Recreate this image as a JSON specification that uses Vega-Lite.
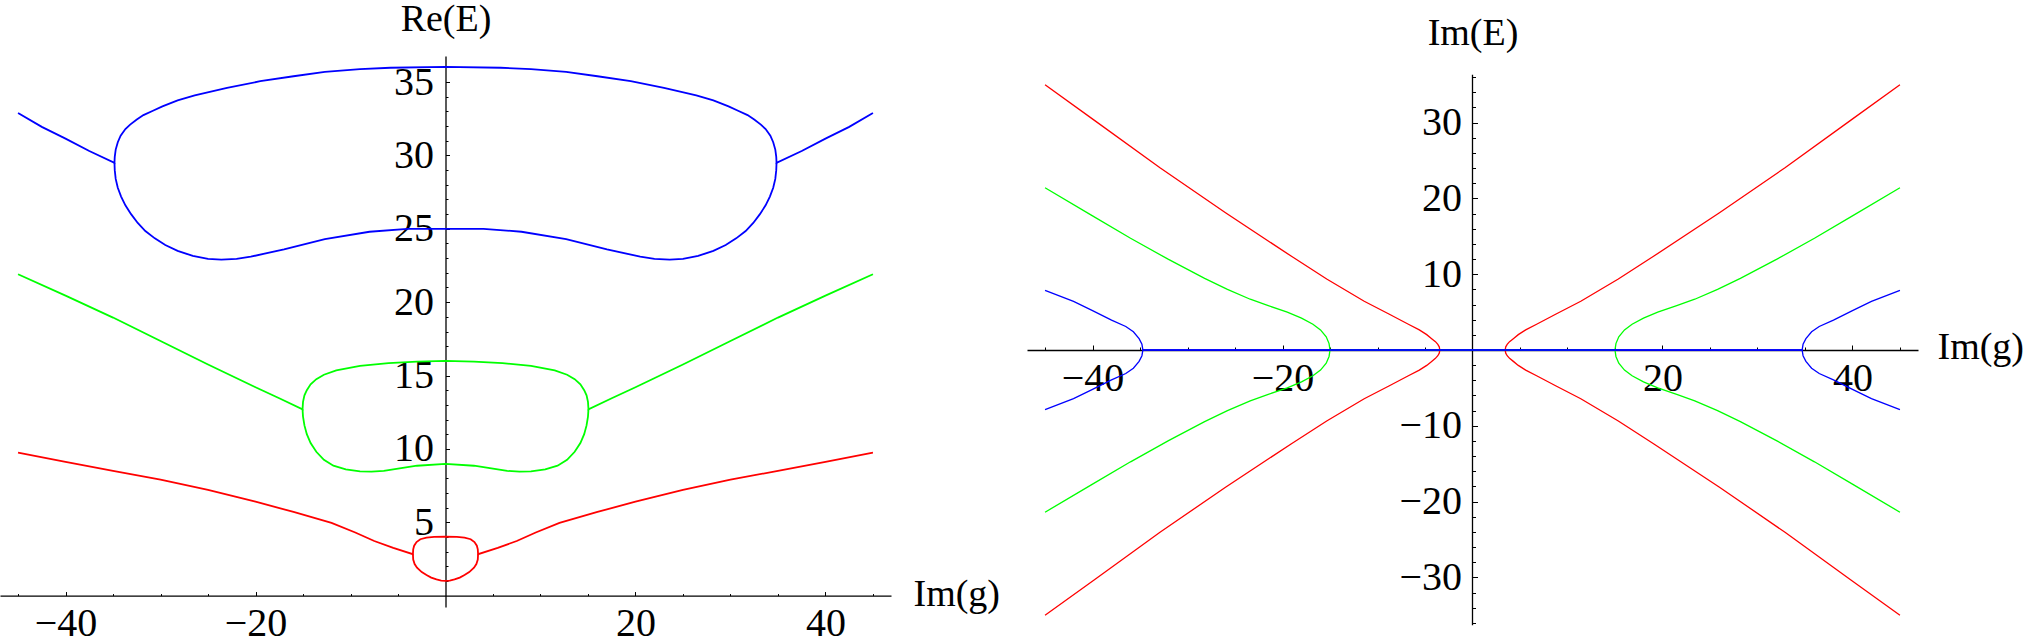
{
  "$schema": "https://vega.github.io/schema/vega-lite/v6.json",
  "padding": 0,
  "autosize": {"type": "pad"},
  "background": "white",
  "spacing": 136,
  "bounds": "flush",
  "config": {
    "view": {"stroke": null},
    "axis": {
      "labelFont": "Liberation Serif", "titleFont": "Liberation Serif",
      "labelFontSize": 40, "titleFontSize": 38, "titleFontWeight": "normal",
      "labelColor": "black", "titleColor": "black", "domainColor": "black", "tickColor": "black",
      "domainWidth": 1.3, "tickWidth": 1, "grid": false,
      "labelFlush": false, "labelOverlap": false, "labelBound": false
    }
  },
  "hconcat": [
    {
      "width": 891, "height": 551,
      "data": {"values": [
        {"b":"r","s":"u","x":-45,"y":9.74},{"b":"r","s":"u","x":-40,"y":9.12},{"b":"r","s":"u","x":-35,"y":8.5},{"b":"r","s":"u","x":-30,"y":7.9},{"b":"r","s":"u","x":-25,"y":7.2},{"b":"r","s":"u","x":-20,"y":6.4},{"b":"r","s":"u","x":-16,"y":5.7},{"b":"r","s":"u","x":-12,"y":4.95},{"b":"r","s":"u","x":-9.5,"y":4.3},{"b":"r","s":"u","x":-7.5,"y":3.72},{"b":"r","s":"u","x":-5.5,"y":3.25},{"b":"r","s":"u","x":-3.43,"y":2.82},{"b":"r","s":"u","x":-3.4,"y":3.15},{"b":"r","s":"u","x":-3.3,"y":3.4},{"b":"r","s":"u","x":-3.05,"y":3.65},{"b":"r","s":"u","x":-2.65,"y":3.84},{"b":"r","s":"u","x":-2.0,"y":3.95},{"b":"r","s":"u","x":-1.2,"y":4.0},{"b":"r","s":"u","x":0,"y":4.01},{"b":"r","s":"u","x":1.2,"y":4.0},{"b":"r","s":"u","x":2.0,"y":3.95},{"b":"r","s":"u","x":2.65,"y":3.84},{"b":"r","s":"u","x":3.05,"y":3.65},{"b":"r","s":"u","x":3.3,"y":3.4},{"b":"r","s":"u","x":3.4,"y":3.15},{"b":"r","s":"u","x":3.43,"y":2.82},{"b":"r","s":"u","x":5.5,"y":3.25},{"b":"r","s":"u","x":7.5,"y":3.72},{"b":"r","s":"u","x":9.5,"y":4.3},{"b":"r","s":"u","x":12,"y":4.95},{"b":"r","s":"u","x":16,"y":5.7},{"b":"r","s":"u","x":20,"y":6.4},{"b":"r","s":"u","x":25,"y":7.2},{"b":"r","s":"u","x":30,"y":7.9},{"b":"r","s":"u","x":35,"y":8.5},{"b":"r","s":"u","x":40,"y":9.12},{"b":"r","s":"u","x":45,"y":9.74},
        {"b":"r","s":"l","x":-3.43,"y":2.82},{"b":"r","s":"l","x":-3.4,"y":2.45},{"b":"r","s":"l","x":-3.25,"y":2.15},{"b":"r","s":"l","x":-3.0,"y":1.9},{"b":"r","s":"l","x":-2.5,"y":1.6},{"b":"r","s":"l","x":-2.0,"y":1.4},{"b":"r","s":"l","x":-1.5,"y":1.22},{"b":"r","s":"l","x":-0.95,"y":1.1},{"b":"r","s":"l","x":-0.45,"y":1.02},{"b":"r","s":"l","x":0,"y":1.0},{"b":"r","s":"l","x":0.45,"y":1.02},{"b":"r","s":"l","x":0.95,"y":1.1},{"b":"r","s":"l","x":1.5,"y":1.22},{"b":"r","s":"l","x":2.0,"y":1.4},{"b":"r","s":"l","x":2.5,"y":1.6},{"b":"r","s":"l","x":3.0,"y":1.9},{"b":"r","s":"l","x":3.25,"y":2.15},{"b":"r","s":"l","x":3.4,"y":2.45},{"b":"r","s":"l","x":3.43,"y":2.82},
        {"b":"g","s":"u","x":-45,"y":21.9},{"b":"g","s":"u","x":-40,"y":20.45},{"b":"g","s":"u","x":-35,"y":18.95},{"b":"g","s":"u","x":-30,"y":17.35},{"b":"g","s":"u","x":-25,"y":15.75},{"b":"g","s":"u","x":-20,"y":14.2},{"b":"g","s":"u","x":-17.5,"y":13.45},{"b":"g","s":"u","x":-15.05,"y":12.7},{"b":"g","s":"u","x":-15.0,"y":13.2},{"b":"g","s":"u","x":-14.85,"y":13.65},{"b":"g","s":"u","x":-14.6,"y":14.0},{"b":"g","s":"u","x":-14.2,"y":14.4},{"b":"g","s":"u","x":-13.6,"y":14.75},{"b":"g","s":"u","x":-12.8,"y":15.05},{"b":"g","s":"u","x":-11.5,"y":15.35},{"b":"g","s":"u","x":-9,"y":15.65},{"b":"g","s":"u","x":-6,"y":15.85},{"b":"g","s":"u","x":-3,"y":15.95},{"b":"g","s":"u","x":0,"y":16.0},{"b":"g","s":"u","x":3,"y":15.95},{"b":"g","s":"u","x":6,"y":15.85},{"b":"g","s":"u","x":9,"y":15.65},{"b":"g","s":"u","x":11.5,"y":15.35},{"b":"g","s":"u","x":12.8,"y":15.05},{"b":"g","s":"u","x":13.6,"y":14.75},{"b":"g","s":"u","x":14.2,"y":14.4},{"b":"g","s":"u","x":14.6,"y":14.0},{"b":"g","s":"u","x":14.85,"y":13.65},{"b":"g","s":"u","x":15.0,"y":13.2},{"b":"g","s":"u","x":15.05,"y":12.7},{"b":"g","s":"u","x":17.5,"y":13.45},{"b":"g","s":"u","x":20,"y":14.2},{"b":"g","s":"u","x":25,"y":15.75},{"b":"g","s":"u","x":30,"y":17.35},{"b":"g","s":"u","x":35,"y":18.95},{"b":"g","s":"u","x":40,"y":20.45},{"b":"g","s":"u","x":45,"y":21.9},
        {"b":"g","s":"l","x":-15.05,"y":12.7},{"b":"g","s":"l","x":-15.0,"y":12.2},{"b":"g","s":"l","x":-14.85,"y":11.6},{"b":"g","s":"l","x":-14.6,"y":11.0},{"b":"g","s":"l","x":-14.2,"y":10.4},{"b":"g","s":"l","x":-13.6,"y":9.8},{"b":"g","s":"l","x":-12.8,"y":9.25},{"b":"g","s":"l","x":-11.8,"y":8.85},{"b":"g","s":"l","x":-10.5,"y":8.6},{"b":"g","s":"l","x":-9,"y":8.47},{"b":"g","s":"l","x":-7.8,"y":8.45},{"b":"g","s":"l","x":-6.5,"y":8.5},{"b":"g","s":"l","x":-5,"y":8.65},{"b":"g","s":"l","x":-3,"y":8.85},{"b":"g","s":"l","x":0,"y":8.98},{"b":"g","s":"l","x":3,"y":8.85},{"b":"g","s":"l","x":5,"y":8.65},{"b":"g","s":"l","x":6.5,"y":8.5},{"b":"g","s":"l","x":7.8,"y":8.45},{"b":"g","s":"l","x":9,"y":8.47},{"b":"g","s":"l","x":10.5,"y":8.6},{"b":"g","s":"l","x":11.8,"y":8.85},{"b":"g","s":"l","x":12.8,"y":9.25},{"b":"g","s":"l","x":13.6,"y":9.8},{"b":"g","s":"l","x":14.2,"y":10.4},{"b":"g","s":"l","x":14.6,"y":11.0},{"b":"g","s":"l","x":14.85,"y":11.6},{"b":"g","s":"l","x":15.0,"y":12.2},{"b":"g","s":"l","x":15.05,"y":12.7},
        {"b":"b","s":"u","x":-45,"y":32.9},{"b":"b","s":"u","x":-42.5,"y":31.95},{"b":"b","s":"u","x":-40,"y":31.15},{"b":"b","s":"u","x":-37.5,"y":30.3},{"b":"b","s":"u","x":-34.85,"y":29.5},{"b":"b","s":"u","x":-34.82,"y":29.9},{"b":"b","s":"u","x":-34.72,"y":30.4},{"b":"b","s":"u","x":-34.5,"y":30.9},{"b":"b","s":"u","x":-34.2,"y":31.35},{"b":"b","s":"u","x":-33.7,"y":31.8},{"b":"b","s":"u","x":-33.2,"y":32.1},{"b":"b","s":"u","x":-32.5,"y":32.45},{"b":"b","s":"u","x":-31.8,"y":32.75},{"b":"b","s":"u","x":-30.8,"y":33.05},{"b":"b","s":"u","x":-29.8,"y":33.35},{"b":"b","s":"u","x":-28.2,"y":33.75},{"b":"b","s":"u","x":-26.4,"y":34.1},{"b":"b","s":"u","x":-23,"y":34.6},{"b":"b","s":"u","x":-19.5,"y":35.06},{"b":"b","s":"u","x":-16,"y":35.4},{"b":"b","s":"u","x":-12.7,"y":35.7},{"b":"b","s":"u","x":-9,"y":35.88},{"b":"b","s":"u","x":-5.8,"y":35.98},{"b":"b","s":"u","x":0,"y":36.04},{"b":"b","s":"u","x":5.8,"y":35.98},{"b":"b","s":"u","x":9,"y":35.88},{"b":"b","s":"u","x":12.7,"y":35.7},{"b":"b","s":"u","x":16,"y":35.4},{"b":"b","s":"u","x":19.5,"y":35.06},{"b":"b","s":"u","x":23,"y":34.6},{"b":"b","s":"u","x":26.4,"y":34.1},{"b":"b","s":"u","x":28.2,"y":33.75},{"b":"b","s":"u","x":29.8,"y":33.35},{"b":"b","s":"u","x":30.8,"y":33.05},{"b":"b","s":"u","x":31.8,"y":32.75},{"b":"b","s":"u","x":32.5,"y":32.45},{"b":"b","s":"u","x":33.2,"y":32.1},{"b":"b","s":"u","x":33.7,"y":31.8},{"b":"b","s":"u","x":34.2,"y":31.35},{"b":"b","s":"u","x":34.5,"y":30.9},{"b":"b","s":"u","x":34.72,"y":30.4},{"b":"b","s":"u","x":34.82,"y":29.9},{"b":"b","s":"u","x":34.85,"y":29.5},{"b":"b","s":"u","x":37.5,"y":30.3},{"b":"b","s":"u","x":40,"y":31.15},{"b":"b","s":"u","x":42.5,"y":31.95},{"b":"b","s":"u","x":45,"y":32.9},
        {"b":"b","s":"l","x":-34.85,"y":29.5},{"b":"b","s":"l","x":-34.82,"y":29.0},{"b":"b","s":"l","x":-34.72,"y":28.4},{"b":"b","s":"l","x":-34.5,"y":27.8},{"b":"b","s":"l","x":-34.15,"y":27.2},{"b":"b","s":"l","x":-33.7,"y":26.6},{"b":"b","s":"l","x":-33.1,"y":26.0},{"b":"b","s":"l","x":-32.4,"y":25.4},{"b":"b","s":"l","x":-31.6,"y":24.85},{"b":"b","s":"l","x":-30.6,"y":24.35},{"b":"b","s":"l","x":-29.5,"y":23.9},{"b":"b","s":"l","x":-28.2,"y":23.5},{"b":"b","s":"l","x":-26.6,"y":23.15},{"b":"b","s":"l","x":-25,"y":22.95},{"b":"b","s":"l","x":-23.6,"y":22.9},{"b":"b","s":"l","x":-22,"y":22.95},{"b":"b","s":"l","x":-20.5,"y":23.1},{"b":"b","s":"l","x":-17,"y":23.6},{"b":"b","s":"l","x":-12.7,"y":24.3},{"b":"b","s":"l","x":-8,"y":24.8},{"b":"b","s":"l","x":-4,"y":25.0},{"b":"b","s":"l","x":0,"y":25.0},{"b":"b","s":"l","x":4,"y":25.0},{"b":"b","s":"l","x":8,"y":24.8},{"b":"b","s":"l","x":12.7,"y":24.3},{"b":"b","s":"l","x":17,"y":23.6},{"b":"b","s":"l","x":20.5,"y":23.1},{"b":"b","s":"l","x":22,"y":22.95},{"b":"b","s":"l","x":23.6,"y":22.9},{"b":"b","s":"l","x":25,"y":22.95},{"b":"b","s":"l","x":26.6,"y":23.15},{"b":"b","s":"l","x":28.2,"y":23.5},{"b":"b","s":"l","x":29.5,"y":23.9},{"b":"b","s":"l","x":30.6,"y":24.35},{"b":"b","s":"l","x":31.6,"y":24.85},{"b":"b","s":"l","x":32.4,"y":25.4},{"b":"b","s":"l","x":33.1,"y":26.0},{"b":"b","s":"l","x":33.7,"y":26.6},{"b":"b","s":"l","x":34.15,"y":27.2},{"b":"b","s":"l","x":34.5,"y":27.8},{"b":"b","s":"l","x":34.72,"y":28.4},{"b":"b","s":"l","x":34.82,"y":29.0},{"b":"b","s":"l","x":34.85,"y":29.5}
      ]},
      "resolve": {"axis": {"x": "independent", "y": "independent"}},
      "layer": [
        {
          "transform": [{"filter": "datum.s === 'u'"}],
          "mark": {"type": "line", "strokeWidth": 1.8, "clip": false},
          "encoding": {
            "x": {"field": "x", "type": "quantitative",
              "scale": {"domain": [-46.9, 46.9], "nice": false, "zero": false},
              "axis": {
                "orient": "bottom", "offset": -11.44, "labelOverlap": false,
                "values": [-40, -20, 20, 40], "tickSize": -4, "labelPadding": 12.2,
                "title": "Im(g)", "titleX": 913, "titleY": -1, "titleAlign": "left", "titleBaseline": "middle", "titleAngle": 0
              }},
            "y": {"field": "y", "type": "quantitative",
              "scale": {"domain": [-0.78, 36.78], "nice": false, "zero": false},
              "axis": {
                "orient": "left", "offset": -445.5, "labelOverlap": false,
                "values": [5, 10, 15, 20, 25, 30, 35], "tickSize": -4, "labelPadding": 16,
                "title": "Re(E)", "titleX": 0, "titleY": -37, "titleAlign": "center", "titleBaseline": "middle", "titleAngle": 0
              }},
            "color": {"field": "b", "type": "nominal", "scale": {"domain": ["r","g","b"], "range": ["#ff0000","#00ff00","#0000ff"]}, "legend": null},
            "detail": {"field": "s"}
          }
        },
        {
          "transform": [{"filter": "datum.s === 'l'"}],
          "mark": {"type": "line", "strokeWidth": 1.8, "clip": false},
          "encoding": {
            "x": {"field": "x", "type": "quantitative",
              "scale": {"domain": [-46.9, 46.9], "nice": false, "zero": false},
              "axis": {
                "orient": "bottom", "offset": -11.44, "labels": false, "title": null, "domain": false,
                "values": [-45,-35,-30,-25,-15,-10,-5,5,10,15,25,30,35,45], "tickSize": -2
              }},
            "y": {"field": "y", "type": "quantitative",
              "scale": {"domain": [-0.78, 36.78], "nice": false, "zero": false},
              "axis": {
                "orient": "left", "offset": -445.5, "labels": false, "title": null, "domain": false,
                "values": [1,2,3,4,6,7,8,9,11,12,13,14,16,17,18,19,21,22,23,24,26,27,28,29,31,32,33,34,36], "tickSize": -2.5
              }},
            "color": {"field": "b", "type": "nominal", "scale": {"domain": ["r","g","b"], "range": ["#ff0000","#00ff00","#0000ff"]}, "legend": null},
            "detail": {"field": "s"}
          }
        }
      ]
    },
    {
      "width": 891, "height": 569,
      "resolve": {"axis": {"x": "independent", "y": "independent"}},
      "layer": [
        {
          "data": {"values": [{"x": 0, "y": -36.3, "y2": 36.3}]},
          "mark": {"type": "rule", "color": "black", "strokeWidth": 1.3},
          "encoding": {
            "x": {"field": "x", "type": "quantitative",
              "scale": {"domain": [-46.9, 46.9], "nice": false, "zero": false},
              "axis": {
                "orient": "bottom", "offset": -275, "labels": false, "title": null, "domain": false,
                "values": [-45,-35,-30,-25,-15,-10,-5,5,10,15,25,30,35,45], "tickSize": -3
              }},
            "y": {"field": "y", "type": "quantitative",
              "scale": {"domain": [-36.28, 38.79], "nice": false, "zero": false},
              "axis": {
                "orient": "left", "offset": -445.5, "labels": false, "title": null, "domain": false,
                "values": [-36,-34,-32,-28,-26,-24,-22,-18,-16,-14,-12,-8,-6,-4,-2,2,4,6,8,12,14,16,18,22,24,26,28,32,34,36], "tickSize": -3
              }},
            "y2": {"field": "y2"}
          }
        },
        {
          "data": {"values": [
            {"b":"r","s":"u","x":-45,"y":35.0},{"b":"r","s":"u","x":-39.8,"y":30.3},{"b":"r","s":"u","x":-32.9,"y":24.05},{"b":"r","s":"u","x":-26,"y":18.1},{"b":"r","s":"u","x":-19.1,"y":12.4},{"b":"r","s":"u","x":-15.35,"y":9.37},{"b":"r","s":"u","x":-11.4,"y":6.43},{"b":"r","s":"u","x":-8.8,"y":4.75},{"b":"r","s":"u","x":-6.75,"y":3.4},{"b":"r","s":"u","x":-5.6,"y":2.65},{"b":"r","s":"u","x":-4.82,"y":2.03},{"b":"r","s":"u","x":-4.3,"y":1.5},{"b":"r","s":"u","x":-3.9,"y":1.1},{"b":"r","s":"u","x":-3.65,"y":0.75},{"b":"r","s":"u","x":-3.5,"y":0.42},{"b":"r","s":"u","x":-3.44,"y":0},{"b":"r","s":"u","x":3.44,"y":0},{"b":"r","s":"u","x":3.5,"y":0.42},{"b":"r","s":"u","x":3.65,"y":0.75},{"b":"r","s":"u","x":3.9,"y":1.1},{"b":"r","s":"u","x":4.3,"y":1.5},{"b":"r","s":"u","x":4.82,"y":2.03},{"b":"r","s":"u","x":5.6,"y":2.65},{"b":"r","s":"u","x":6.75,"y":3.4},{"b":"r","s":"u","x":8.8,"y":4.75},{"b":"r","s":"u","x":11.4,"y":6.43},{"b":"r","s":"u","x":15.35,"y":9.37},{"b":"r","s":"u","x":19.1,"y":12.4},{"b":"r","s":"u","x":26,"y":18.1},{"b":"r","s":"u","x":32.9,"y":24.05},{"b":"r","s":"u","x":39.8,"y":30.3},{"b":"r","s":"u","x":45,"y":35.0},
            {"b":"r","s":"l","x":-45,"y":-35.0},{"b":"r","s":"l","x":-39.8,"y":-30.3},{"b":"r","s":"l","x":-32.9,"y":-24.05},{"b":"r","s":"l","x":-26,"y":-18.1},{"b":"r","s":"l","x":-19.1,"y":-12.4},{"b":"r","s":"l","x":-15.35,"y":-9.37},{"b":"r","s":"l","x":-11.4,"y":-6.43},{"b":"r","s":"l","x":-8.8,"y":-4.75},{"b":"r","s":"l","x":-6.75,"y":-3.4},{"b":"r","s":"l","x":-5.6,"y":-2.65},{"b":"r","s":"l","x":-4.82,"y":-2.03},{"b":"r","s":"l","x":-4.3,"y":-1.5},{"b":"r","s":"l","x":-3.9,"y":-1.1},{"b":"r","s":"l","x":-3.65,"y":-0.75},{"b":"r","s":"l","x":-3.5,"y":-0.42},{"b":"r","s":"l","x":-3.44,"y":0},{"b":"r","s":"l","x":3.44,"y":0},{"b":"r","s":"l","x":3.5,"y":-0.42},{"b":"r","s":"l","x":3.65,"y":-0.75},{"b":"r","s":"l","x":3.9,"y":-1.1},{"b":"r","s":"l","x":4.3,"y":-1.5},{"b":"r","s":"l","x":4.82,"y":-2.03},{"b":"r","s":"l","x":5.6,"y":-2.65},{"b":"r","s":"l","x":6.75,"y":-3.4},{"b":"r","s":"l","x":8.8,"y":-4.75},{"b":"r","s":"l","x":11.4,"y":-6.43},{"b":"r","s":"l","x":15.35,"y":-9.37},{"b":"r","s":"l","x":19.1,"y":-12.4},{"b":"r","s":"l","x":26,"y":-18.1},{"b":"r","s":"l","x":32.9,"y":-24.05},{"b":"r","s":"l","x":39.8,"y":-30.3},{"b":"r","s":"l","x":45,"y":-35.0},
            {"b":"g","s":"u","x":-45,"y":21.4},{"b":"g","s":"u","x":-40,"y":17.7},{"b":"g","s":"u","x":-36,"y":14.75},{"b":"g","s":"u","x":-32,"y":11.95},{"b":"g","s":"u","x":-28.2,"y":9.45},{"b":"g","s":"u","x":-25.8,"y":8.0},{"b":"g","s":"u","x":-23.4,"y":6.7},{"b":"g","s":"u","x":-21.5,"y":5.85},{"b":"g","s":"u","x":-19.5,"y":5.0},{"b":"g","s":"u","x":-18.0,"y":4.2},{"b":"g","s":"u","x":-16.8,"y":3.4},{"b":"g","s":"u","x":-16.0,"y":2.65},{"b":"g","s":"u","x":-15.4,"y":1.75},{"b":"g","s":"u","x":-15.1,"y":0.85},{"b":"g","s":"u","x":-15.0,"y":0},{"b":"g","s":"u","x":15.0,"y":0},{"b":"g","s":"u","x":15.1,"y":0.85},{"b":"g","s":"u","x":15.4,"y":1.75},{"b":"g","s":"u","x":16.0,"y":2.65},{"b":"g","s":"u","x":16.8,"y":3.4},{"b":"g","s":"u","x":18.0,"y":4.2},{"b":"g","s":"u","x":19.5,"y":5.0},{"b":"g","s":"u","x":21.5,"y":5.85},{"b":"g","s":"u","x":23.4,"y":6.7},{"b":"g","s":"u","x":25.8,"y":8.0},{"b":"g","s":"u","x":28.2,"y":9.45},{"b":"g","s":"u","x":32,"y":11.95},{"b":"g","s":"u","x":36,"y":14.75},{"b":"g","s":"u","x":40,"y":17.7},{"b":"g","s":"u","x":45,"y":21.4},
            {"b":"g","s":"l","x":-45,"y":-21.4},{"b":"g","s":"l","x":-40,"y":-17.7},{"b":"g","s":"l","x":-36,"y":-14.75},{"b":"g","s":"l","x":-32,"y":-11.95},{"b":"g","s":"l","x":-28.2,"y":-9.45},{"b":"g","s":"l","x":-25.8,"y":-8.0},{"b":"g","s":"l","x":-23.4,"y":-6.7},{"b":"g","s":"l","x":-21.5,"y":-5.85},{"b":"g","s":"l","x":-19.5,"y":-5.0},{"b":"g","s":"l","x":-18.0,"y":-4.2},{"b":"g","s":"l","x":-16.8,"y":-3.4},{"b":"g","s":"l","x":-16.0,"y":-2.65},{"b":"g","s":"l","x":-15.4,"y":-1.75},{"b":"g","s":"l","x":-15.1,"y":-0.85},{"b":"g","s":"l","x":-15.0,"y":0},{"b":"g","s":"l","x":15.0,"y":0},{"b":"g","s":"l","x":15.1,"y":-0.85},{"b":"g","s":"l","x":15.4,"y":-1.75},{"b":"g","s":"l","x":16.0,"y":-2.65},{"b":"g","s":"l","x":16.8,"y":-3.4},{"b":"g","s":"l","x":18.0,"y":-4.2},{"b":"g","s":"l","x":19.5,"y":-5.0},{"b":"g","s":"l","x":21.5,"y":-5.85},{"b":"g","s":"l","x":23.4,"y":-6.7},{"b":"g","s":"l","x":25.8,"y":-8.0},{"b":"g","s":"l","x":28.2,"y":-9.45},{"b":"g","s":"l","x":32,"y":-11.95},{"b":"g","s":"l","x":36,"y":-14.75},{"b":"g","s":"l","x":40,"y":-17.7},{"b":"g","s":"l","x":45,"y":-21.4},
            {"b":"b","s":"u","x":-45,"y":7.87},{"b":"b","s":"u","x":-42,"y":6.42},{"b":"b","s":"u","x":-40,"y":5.2},{"b":"b","s":"u","x":-38,"y":3.95},{"b":"b","s":"u","x":-36.5,"y":3.1},{"b":"b","s":"u","x":-35.7,"y":2.4},{"b":"b","s":"u","x":-35.1,"y":1.5},{"b":"b","s":"u","x":-34.8,"y":0.75},{"b":"b","s":"u","x":-34.7,"y":0},{"b":"b","s":"u","x":34.7,"y":0},{"b":"b","s":"u","x":34.8,"y":0.75},{"b":"b","s":"u","x":35.1,"y":1.5},{"b":"b","s":"u","x":35.7,"y":2.4},{"b":"b","s":"u","x":36.5,"y":3.1},{"b":"b","s":"u","x":38,"y":3.95},{"b":"b","s":"u","x":40,"y":5.2},{"b":"b","s":"u","x":42,"y":6.42},{"b":"b","s":"u","x":45,"y":7.87},
            {"b":"b","s":"l","x":-45,"y":-7.87},{"b":"b","s":"l","x":-42,"y":-6.42},{"b":"b","s":"l","x":-40,"y":-5.2},{"b":"b","s":"l","x":-38,"y":-3.95},{"b":"b","s":"l","x":-36.5,"y":-3.1},{"b":"b","s":"l","x":-35.7,"y":-2.4},{"b":"b","s":"l","x":-35.1,"y":-1.5},{"b":"b","s":"l","x":-34.8,"y":-0.75},{"b":"b","s":"l","x":-34.7,"y":0},{"b":"b","s":"l","x":34.7,"y":0},{"b":"b","s":"l","x":34.8,"y":-0.75},{"b":"b","s":"l","x":35.1,"y":-1.5},{"b":"b","s":"l","x":35.7,"y":-2.4},{"b":"b","s":"l","x":36.5,"y":-3.1},{"b":"b","s":"l","x":38,"y":-3.95},{"b":"b","s":"l","x":40,"y":-5.2},{"b":"b","s":"l","x":42,"y":-6.42},{"b":"b","s":"l","x":45,"y":-7.87}
          ]},
          "mark": {"type": "line", "strokeWidth": 1.3, "clip": false},
          "encoding": {
            "x": {"field": "x", "type": "quantitative",
              "scale": {"domain": [-46.9, 46.9], "nice": false, "zero": false},
              "axis": {
                "orient": "bottom", "offset": -275, "labelOverlap": false,
                "values": [-40, -20, 20, 40], "tickSize": -5, "labelPadding": 13,
                "title": "Im(g)", "titleX": 910, "titleY": -2.5, "titleAlign": "left", "titleBaseline": "middle", "titleAngle": 0
              }},
            "y": {"field": "y", "type": "quantitative",
              "scale": {"domain": [-36.28, 38.79], "nice": false, "zero": false},
              "axis": {
                "orient": "left", "offset": -445.5, "domain": false, "labelOverlap": false,
                "values": [-30, -20, -10, 10, 20, 30], "tickSize": -5, "labelPadding": 16,
                "title": "Im(E)", "titleX": 0, "titleY": -23, "titleAlign": "center", "titleBaseline": "middle", "titleAngle": 0
              }},
            "color": {"field": "b", "type": "nominal", "scale": {"domain": ["r","g","b"], "range": ["#ff0000","#00ff00","#0000ff"]}, "legend": null},
            "detail": {"field": "s"}
          }
        }
      ]
    }
  ]
}
